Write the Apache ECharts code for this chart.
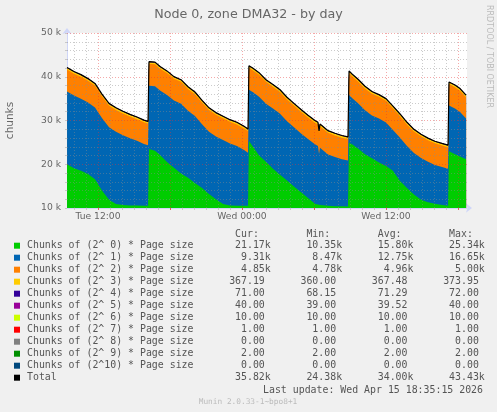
<!DOCTYPE html>
<html><head><meta charset="utf-8">
<script src="https://cdn.jsdelivr.net/npm/echarts@6/dist/echarts.min.js"></script>
<style>html,body{margin:0;padding:0;background:#f0f0f0;}#c{width:497px;height:412px;}</style>
</head><body><div id="c"></div>
<script>
// time of each sample, in hours since Tue 00:00
const hours = [
  9.42,10.00,10.58,11.17,11.75,12.33,12.92,13.50,14.08,14.67,15.25,15.83,16.17,
  16.25,16.75,17.17,17.75,18.33,18.92,19.50,20.08,20.67,21.25,21.83,22.42,23.00,23.58,24.17,24.50,
  24.58,24.92,25.42,26.00,26.58,27.17,27.75,28.33,28.92,29.50,30.08,30.33,30.42,30.50,30.58,31.17,31.75,32.33,32.83,
  32.92,33.17,33.67,34.25,34.83,35.42,36.00,36.58,37.17,37.75,38.33,38.92,39.50,40.08,40.67,41.17,
  41.25,41.75,42.17,42.67
];
const chunks2p0 = [
  20000,19100,18500,17800,16600,14000,11900,10900,10700,10600,10600,10500,10500,
  23500,23100,22100,20500,19200,17900,16900,15700,14600,13200,12000,10900,10600,10500,10500,10500,
  25340,24000,22000,20600,19000,17600,16300,14900,13600,12300,11000,10800,10800,10700,10600,10500,10400,10400,10350,
  24900,24600,23600,22300,21400,20400,19600,18500,16200,14600,13100,11900,11300,11000,10700,10500,
  23000,22300,21800,21170
];
const chunks2p1 = [
  16650,16600,16500,16300,16400,16550,16550,16550,15950,15350,14750,14150,13850,
  14450,14750,14750,15350,15350,15950,15350,15350,14550,14250,14350,14650,14150,13650,12750,12150,
  11710,12450,13450,13250,13750,13950,13550,13550,13450,13450,13550,13350,11550,13050,12950,11750,11250,10750,10500,
  10950,10550,10350,10050,9750,10050,9950,9350,9850,9550,9450,9550,9250,8850,8650,8470,
  10450,10450,10150,9310
];
const chunks2p2 = [
  4990,5000,4990,4980,4980,4970,4970,4960,4960,4960,4950,4950,4950,
  5000,5000,4990,4990,4980,4980,4970,4970,4970,4960,4960,4950,4950,4950,4940,4940,
  4990,4990,4990,4980,4980,4980,4970,4970,4960,4960,4950,4950,4780,4950,4950,4940,4940,4930,4930,
  4990,4990,4980,4980,4970,4970,4960,4960,4950,4950,4940,4940,4930,4930,4920,4920,
  4870,4860,4860,4850
];
const chunks2p3 = [
  372,372,371,371,370,370,369,369,368,368,367,367,366,
  374,373,373,372,372,371,371,370,369,369,368,367,366,365,364,363,
  370,370,369,369,368,368,367,367,366,366,365,365,360,364,364,363,363,362,362,
  371,371,370,370,369,369,368,368,367,366,366,365,365,364,364,363,
  368,368,367,367
];
const chunks2p4 = [
  72,72,72,72,72,72,71,71,71,71,71,71,71,
  72,72,72,72,72,71,71,71,71,71,71,71,71,70,70,70,
  72,72,72,72,72,71,71,71,71,71,71,70,68,70,70,70,70,70,70,
  72,72,72,72,72,72,71,71,71,71,71,71,71,71,71,71,
  71,71,71,71
];
const chunks2p5 = [
  40,40,40,40,40,40,40,40,40,40,40,40,40,
  40,40,40,40,40,40,40,40,40,40,40,40,40,40,40,40,
  40,40,40,40,40,40,40,40,40,40,40,40,39,39,39,39,39,39,39,
  40,40,40,40,40,40,40,40,40,40,40,40,40,40,40,40,
  40,40,40,40
];
const chunks2p6 = [
  10,10,10,10,10,10,10,10,10,10,10,10,10,
  10,10,10,10,10,10,10,10,10,10,10,10,10,10,10,10,
  10,10,10,10,10,10,10,10,10,10,10,10,10,10,10,10,10,10,10,
  10,10,10,10,10,10,10,10,10,10,10,10,10,10,10,10,
  10,10,10,10
];
const chunks2p7 = [
  1,1,1,1,1,1,1,1,1,1,1,1,1,
  1,1,1,1,1,1,1,1,1,1,1,1,1,1,1,1,
  1,1,1,1,1,1,1,1,1,1,1,1,1,1,1,1,1,1,1,
  1,1,1,1,1,1,1,1,1,1,1,1,1,1,1,1,
  1,1,1,1
];
const chunks2p8 = [
  0,0,0,0,0,0,0,0,0,0,0,0,0,
  0,0,0,0,0,0,0,0,0,0,0,0,0,0,0,0,
  0,0,0,0,0,0,0,0,0,0,0,0,0,0,0,0,0,0,0,
  0,0,0,0,0,0,0,0,0,0,0,0,0,0,0,0,
  0,0,0,0
];
const chunks2p9 = [
  2,2,2,2,2,2,2,2,2,2,2,2,2,
  2,2,2,2,2,2,2,2,2,2,2,2,2,2,2,2,
  2,2,2,2,2,2,2,2,2,2,2,2,2,2,2,2,2,2,2,
  2,2,2,2,2,2,2,2,2,2,2,2,2,2,2,2,
  2,2,2,2
];
const chunks2p10 = [
  0,0,0,0,0,0,0,0,0,0,0,0,0,
  0,0,0,0,0,0,0,0,0,0,0,0,0,0,0,0,
  0,0,0,0,0,0,0,0,0,0,0,0,0,0,0,0,0,0,0,
  0,0,0,0,0,0,0,0,0,0,0,0,0,0,0,0,
  0,0,0,0
];

const seriesNames = [
  'Chunks of (2^ 0) * Page size','Chunks of (2^ 1) * Page size','Chunks of (2^ 2) * Page size',
  'Chunks of (2^ 3) * Page size','Chunks of (2^ 4) * Page size','Chunks of (2^ 5) * Page size',
  'Chunks of (2^ 6) * Page size','Chunks of (2^ 7) * Page size','Chunks of (2^ 8) * Page size',
  'Chunks of (2^ 9) * Page size','Chunks of (2^10) * Page size','Total'
];
const seriesColors = ['#00CC00','#0066B3','#FF8000','#FFCC00','#330099','#990099','#CCFF00','#FF0000','#808080','#008F00','#00487D','#000000'];

const legendCur = [21170, 9310, 4850, 367.19, 71.00, 40.00, 10.00, 1.00, 0.00, 2.00, 0.00, 35820];
const legendMin = [10350, 8470, 4780, 360.00, 68.15, 39.00, 10.00, 1.00, 0.00, 2.00, 0.00, 24380];
const legendAvg = [15800, 12750, 4960, 367.48, 71.29, 39.52, 10.00, 1.00, 0.00, 2.00, 0.00, 34000];
const legendMax = [25340, 16650, 5000, 373.95, 72.00, 40.00, 10.00, 1.00, 0.00, 2.00, 0.00, 43430];

const xLabelValues = [12, 24, 36];
const xLabelTexts = ['Tue 12:00', 'Wed 00:00', 'Wed 12:00'];

const xStart = 9 + 25/60;   // Tue 09:25
const xEnd = 42.75;         // Wed 18:45

const components = [chunks2p0,chunks2p1,chunks2p2,chunks2p3,chunks2p4,chunks2p5,chunks2p6,chunks2p7,chunks2p8,chunks2p9,chunks2p10];
// RRDtool-style STACK: each area is drawn at the running sum of the layers below it
const stackTops = [];
components.forEach((arr, k) => {
  stackTops.push(arr.map((v, i) => v + (k > 0 ? stackTops[k-1][i] : 0)));
});
const total = stackTops[stackTops.length - 1];

// grid line positions
const hourTicks = [], majorHours = [];
for (let h = 10; h <= 42; h++) { hourTicks.push(h); if (h % 6 === 0) majorHours.push(h); }
const gridMinor = 'rgba(140,140,140,0.45)';
const gridMajor = 'rgba(230,50,50,0.42)';
const gridLines = [];
hourTicks.forEach(h => { if (h % 6 !== 0) gridLines.push({xAxis: h, lineStyle: {color: gridMinor, type: [1,2], width: 1}}); });
for (let v = 12000; v <= 50000; v += 2000) { if (v % 10000 !== 0) gridLines.push({yAxis: v, lineStyle: {color: gridMinor, type: [1,2], width: 1}}); }
majorHours.forEach(h => gridLines.push({xAxis: h, lineStyle: {color: gridMajor, type: [1,2], width: 1}}));
for (let v = 20000; v <= 50000; v += 10000) gridLines.push({yAxis: v, lineStyle: {color: gridMajor, type: [1,2], width: 1}});

// draw from the top layer down so lower layers paint over the upper ones
const series = [];
for (let k = components.length - 1; k >= 0; k--) {
  series.push({
    name: seriesNames[k], type: 'line', xAxisIndex: 0, yAxisIndex: 0,
    data: hours.map((h, i) => [h, stackTops[k][i]]),
    symbol: 'none', showSymbol: false, lineStyle: {width: 0},
    areaStyle: {color: seriesColors[k], opacity: 1, origin: 'start'}, z: 2, silent: true
  });
}
series.push({
  name: 'Total', type: 'line', xAxisIndex: 0, yAxisIndex: 0,
  data: hours.map((h, i) => [h, total[i]]),
  symbol: 'none', showSymbol: false, lineStyle: {color: '#000', width: 1.2}, z: 6, silent: true,
  markLine: {silent: true, symbol: ['none','none'], label: {show: false}, animation: false, data: gridLines}
});

function fmt(v) { return v >= 1000 ? (v/1000).toFixed(2) + 'k' : v.toFixed(2) + ' '; }
const mono = '"DejaVu Sans Mono", monospace';
const textColor = '#555';
const graphic = [];
const rowY0 = 245.7, rowStep = 12;
graphic.push({type: 'text', x: 27, y: 234, style: {text: ' '.repeat(35) + 'Cur:' + ' '.repeat(8) + 'Min:' + ' '.repeat(8) + 'Avg:' + ' '.repeat(8) + 'Max:', font: '9.9px ' + mono, fill: textColor, verticalAlign: 'middle', align: 'left'}});
seriesNames.forEach((name, i) => {
  const y = rowY0 + i * rowStep;
  graphic.push({type: 'rect', shape: {x: 14, y: y - 3, width: 6, height: 6}, style: {fill: seriesColors[i]}});
  const row = name.padEnd(28) + fmt(legendCur[i]).padStart(13) + fmt(legendMin[i]).padStart(12) + fmt(legendAvg[i]).padStart(12) + fmt(legendMax[i]).padStart(12);
  graphic.push({type: 'text', x: 27, y: y, style: {text: row, font: '9.9px ' + mono, fill: textColor, verticalAlign: 'middle', align: 'left'}});
});
graphic.push({type: 'text', x: 483, y: 390, style: {text: 'Last update: Wed Apr 15 18:35:15 2026', font: '9.9px ' + mono, fill: textColor, verticalAlign: 'middle', align: 'right'}});
graphic.push({type: 'text', x: 248, y: 401.7, style: {text: 'Munin 2.0.33-1~bpo8+1', font: '7.8px ' + mono, fill: '#bbbbbb', verticalAlign: 'middle', align: 'center'}});
graphic.push({type: 'text', x: 489, y: 5, rotation: -Math.PI/2, style: {text: 'RRDTOOL / TOBI OETIKER', font: '8px "DejaVu Sans"', fill: '#bbbbbb', verticalAlign: 'middle', align: 'left'}});

const axisColor = '#CFD6F8';
const option = {
  backgroundColor: '#f0f0f0',
  animation: false,
  title: {text: 'Node 0, zone DMA32 - by day', left: 'center', top: 3,
    textStyle: {fontFamily: 'DejaVu Sans', fontSize: 12.7, fontWeight: 'normal', color: '#666'}},
  grid: {left: 67, top: 33, width: 400, height: 175, show: true, backgroundColor: '#ffffff', borderWidth: 0,
    containLabel: false, outerBoundsMode: 'none'},
  xAxis: [{
    type: 'value', min: xStart, max: xEnd, position: 'bottom',
    axisLine: {show: true, lineStyle: {color: axisColor, width: 1}, symbol: ['none','arrow'], symbolSize: [7,6], symbolOffset: [0,5]},
    axisTick: {show: true, customValues: hourTicks, length: 2, lineStyle: {color: '#c8c8c8'}},
    axisLabel: {customValues: xLabelValues, margin: 4, fontFamily: 'DejaVu Sans', fontSize: 9.2, color: '#666',
      formatter: v => { const i = xLabelValues.indexOf(Math.round(v)); return i >= 0 ? xLabelTexts[i] : ''; }},
    splitLine: {show: false}
  }, {
    type: 'value', min: xStart, max: xEnd, position: 'bottom',
    axisLine: {show: false},
    axisTick: {show: true, customValues: majorHours, length: 2, lineStyle: {color: '#e06060'}},
    axisLabel: {show: false}, splitLine: {show: false}
  }],
  yAxis: {
    type: 'value', min: 10000, max: 50000, interval: 2000,
    name: 'chunks', nameLocation: 'middle', nameGap: 51, nameRotate: 90,
    nameTextStyle: {fontFamily: 'DejaVu Sans', fontSize: 10.5, color: '#666'},
    axisLine: {show: true, lineStyle: {color: axisColor, width: 1}, symbol: ['none','arrow'], symbolSize: [7,6], symbolOffset: [0,5]},
    axisTick: {show: true, length: 2, lineStyle: {color: '#c8c8c8'}},
    axisLabel: {margin: 6, fontFamily: 'DejaVu Sans', fontSize: 9.2, color: '#666',
      formatter: v => (v % 10000 === 0 ? (v/1000) + ' k' : '')},
    splitLine: {show: false}
  },
  graphic: graphic,
  series: series
};
const chart = echarts.init(document.getElementById('c'), null, {renderer: 'canvas', width: 497, height: 412});
chart.setOption(option);
</script></body></html>
